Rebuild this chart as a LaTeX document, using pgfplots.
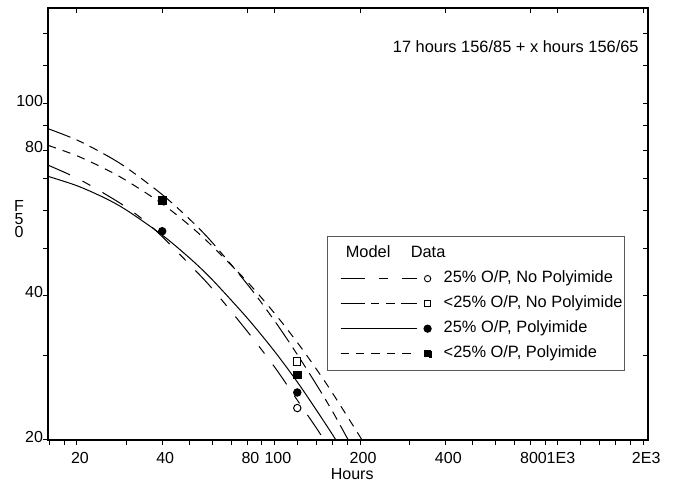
\documentclass[border=0pt]{standalone}
\usepackage{pgfplots}
\pgfplotsset{compat=1.18}
\usepackage{fontspec}
\setmainfont{Liberation Sans}
\tikzset{
  patA/.style={dash pattern=on 12pt off 7pt on 4.5pt off 7pt},
  patB/.style={dash pattern=on 12pt off 3.3pt on 4pt off 3.3pt on 4.5pt off 3.3pt},
  patD/.style={dash pattern=on 4.15pt off 3.55pt},
}
\newcommand{\lfont}{\fontsize{8.2}{9.8}\selectfont}
\begin{document}
\begin{tikzpicture}
\begin{axis}[
  scale only axis, width=300pt, height=216pt,
  xmode=log, ymode=log,
  xmin=15.8, xmax=2080, ymin=20, ymax=158,
  xtick={20,40,80,100,200,400,800,1000,2000},
  xticklabels={20,40,80,100,200,400,800,1E3,2E3},
  minor xtick={16,18,30,50,60,70,90,120,140,160,180,300,500,600,700,900,1200,1400,1600,1800},
  ytick={20,40,80,100}, yticklabels={20,40,80,100},
  minor ytick={30,50,60,70,90,120,140},
  xtick pos=left, ytick pos=left, tick align=outside,
  major tick length=2.5pt, minor tick length=2.5pt,
  tick style={black, line width=0.5pt},
  axis line style={line width=0.6pt},
  /pgf/number format/assume math mode=true,
  tick label style={font=\fontsize{8}{9.6}\selectfont},
  xticklabel style={xshift=1.5pt},
  yticklabel style={yshift=1.5pt, xshift=3.5pt},
  xlabel={Hours},
  xlabel style={font=\fontsize{8}{9.6}\selectfont, at={(axis description cs:0.507,-0.0787)}, anchor=center},
  ylabel={\begin{tabular}{@{}c@{}}F\\[-3.1pt]5\\[-3.1pt]0\end{tabular}},
  ylabel style={rotate=-90, font=\fontsize{8}{9.6}\selectfont, at={(axis description cs:-0.0483,0.507)}, anchor=center},
  legend style={at={(axis description cs:0.465,0.472)}, anchor=north west,
    draw=black!65, line width=0.6pt, inner xsep=1pt, inner ysep=4.5pt,
    row sep=4.5pt, column sep=6pt, font=\lfont,
    nodes={inner sep=0pt, text height=6pt, text depth=2pt},
    cells={anchor=west}},
]
% header
\addlegendimage{legend image code/.code={
  \path[draw=none, fill=none] (0pt,-1pt) rectangle (51pt,1pt);
  \node[overlay, draw=none, anchor=center, inner sep=0pt, text height=6pt, text depth=2pt, font=\lfont] at (19.25pt,0pt) {Model};
  \node[overlay, draw=none, anchor=center, inner sep=0pt, text height=6pt, text depth=2pt, font=\lfont] at (49.25pt,0pt) {Data};
}}
\addlegendentry{}
% 25% O/P, No Polyimide
\addplot[black, line width=0.5pt, patA, smooth,
  legend image code/.code={
    \path[draw=none, fill=none] (0pt,-1pt) rectangle (51pt,1pt);
    \draw[black, line width=0.5pt, patA] (5.5pt,0pt) -- (43.5pt,0pt);
    \draw[black, solid, line width=0.45pt, fill=white] (49pt,0pt) circle (1.6pt);
  }] coordinates {
  (15.8,74.5) (20,70.0) (25,65.0) (30,60.8) (35,56.8) (40,52.9) (50,46.3)
  (60,41.3) (80,33.6) (100,28.3) (120,24.2) (140,21.2) (150,19.9)};
\addlegendentry{25\% O/P, No Polyimide}
% <25% O/P, No Polyimide
\addplot[black, line width=0.5pt, patB, smooth,
  legend image code/.code={
    \path[draw=none, fill=none] (0pt,-1pt) rectangle (51pt,1pt);
    \draw[black, line width=0.5pt, patB] (5.5pt,0pt) -- (43.5pt,0pt);
    \draw[black, solid, line width=0.45pt, fill=white] (47.4pt,-1.6pt) rectangle (50.6pt,1.6pt);
  }] coordinates {
  (15.8,88.7) (20,84.0) (25,78.5) (30,73.5) (40,64.7) (50,57.5) (60,51.5)
  (80,42.1) (100,35.3) (120,30.1) (140,26.1) (160,22.9) (180,20.2) (184,19.8)};
\addlegendentry{<25\% O/P, No Polyimide}
% 25% O/P, Polyimide
\addplot[black, line width=0.5pt, solid, smooth,
  legend image code/.code={
    \path[draw=none, fill=none] (0pt,-1pt) rectangle (51pt,1pt);
    \draw[black, line width=0.5pt] (5.5pt,0pt) -- (43.5pt,0pt);
    \fill[black] (49pt,0pt) circle (1.8pt);
  }] coordinates {
  (15.8,70.6) (20,67.5) (25,63.7) (30,60.0) (40,53.3) (50,47.75) (60,43.1)
  (80,35.8) (100,30.5) (120,26.4) (140,23.1) (160,20.5) (165,19.9)};
\addlegendentry{25\% O/P, Polyimide}
% <25% O/P, Polyimide
\addplot[black, line width=0.5pt, patD, smooth,
  legend image code/.code={
    \path[draw=none, fill=none] (0pt,-1pt) rectangle (51pt,1pt);
    \draw[black, line width=0.5pt, patD] (5.5pt,0pt) -- (43.5pt,0pt);
    \fill[black] (47.2pt,-1.8pt) rectangle (50.8pt,1.8pt);
  }] coordinates {
  (15.8,81.9) (20,77.9) (25,73.3) (30,69.1) (40,61.9) (50,55.8) (60,50.6)
  (80,42.6) (100,36.6) (120,31.9) (140,28.1) (160,25.0) (198,20.5) (205,19.8)};
\addlegendentry{<25\% O/P, Polyimide}
% data
\addplot[forget plot, only marks, mark=o, mark size=1.85pt, mark options={black, line width=0.5pt}] coordinates {(120,23.3)};
\addplot[forget plot, only marks, mark=square, mark size=1.8pt, mark options={black, line width=0.5pt}] coordinates {(120,29.1)};
\addplot[forget plot, only marks, mark=*, mark size=1.9pt, mark options={black}] coordinates {(40,54.3) (120,25.1)};
\addplot[forget plot, only marks, mark=square*, mark size=1.9pt, mark options={black}] coordinates {(40,63.0) (120,27.3)};
\node[anchor=east, font=\lfont, inner sep=0pt] at (rel axis cs:0.985,0.911) {17 hours 156/85 + x hours 156/65};
\end{axis}
\begin{axis}[
  scale only axis, width=300pt, height=216pt,
  xmode=log, ymode=log,
  xmin=15.8, xmax=2080, ymin=20, ymax=158,
  xtick={20,40,80,100,200,400,800,1000,2000}, xticklabels={},
  minor xtick={},
  ytick={20,40,80,100}, yticklabels={},
  minor ytick={30,50,60,70,90,120,140},
  xtick pos=right, ytick pos=right, tick align=inside,
  major tick length=2.5pt, minor tick length=2.5pt,
  tick style={black, line width=0.5pt},
  axis line style={line width=0.6pt},
]
\end{axis}
\pgfresetboundingbox
\path[use as bounding box] ([xshift=-24pt,yshift=-26.5pt]current axis.south west) rectangle ([xshift=15pt,yshift=4pt]current axis.north east);
\end{tikzpicture}
\end{document}
